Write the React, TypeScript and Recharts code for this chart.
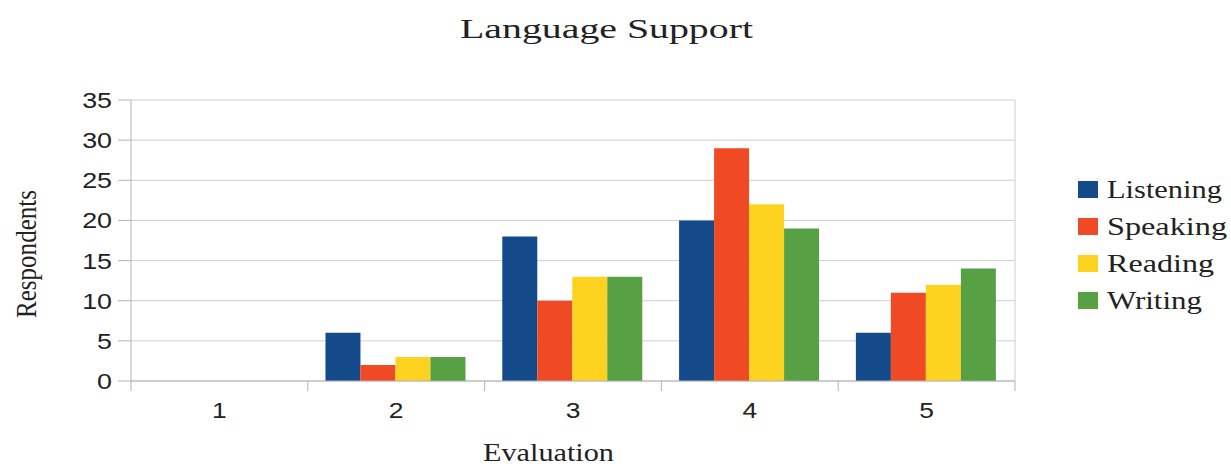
import React from "react";
import { BarChart, Bar, XAxis, YAxis, CartesianGrid } from "recharts";

const categories = ["1", "2", "3", "4", "5"];
const listening = [0, 6, 18, 20, 6];
const speaking = [0, 2, 10, 29, 11];
const reading = [0, 3, 13, 22, 12];
const writing = [0, 3, 13, 19, 14];
const yTicks = [0, 5, 10, 15, 20, 25, 30, 35];

const series = [
  { key: "Listening", color: "#144a89" },
  { key: "Speaking", color: "#ef4a23" },
  { key: "Reading", color: "#fdd320" },
  { key: "Writing", color: "#57a043" },
];

const data = categories.map((c, i) => ({
  evaluation: c,
  Listening: listening[i],
  Speaking: speaking[i],
  Reading: reading[i],
  Writing: writing[i],
}));

const W = 1231;
const H = 467;
const margin = { top: 100, right: 216, bottom: 0, left: 0 };
const Y_AXIS_W = 131;
const X_AXIS_H = 86;
const halfBand = (W - Y_AXIS_W - margin.right) / categories.length / 2;

const AXIS = "#b3b3b3";
const sans = "'Liberation Sans', Arial, sans-serif";
const serif = "'Liberation Serif', 'Times New Roman', serif";

if (typeof document !== "undefined") document.body.style.margin = "0";

function XTick(props: any) {
  const { x, y, payload, index } = props;
  const last = index === categories.length - 1;
  return (
    <g>
      <line x1={x - halfBand} y1={y} x2={x - halfBand} y2={y + 10} stroke={AXIS} />
      {last && <line x1={x + halfBand} y1={y} x2={x + halfBand} y2={y + 10} stroke={AXIS} />}
      <g transform={`translate(${x},${y + 37}) scale(1.2,1)`}>
        <text textAnchor="middle" fontFamily={sans} fontSize={22} fill="#222">
          {payload.value}
        </text>
      </g>
    </g>
  );
}

function YTick(props: any) {
  const { x, y, payload } = props;
  return (
    <g transform={`translate(${x},${y + 8}) scale(1.22,1)`}>
      <text textAnchor="end" fontFamily={sans} fontSize={22} fill="#222">
        {payload.value}
      </text>
    </g>
  );
}

export default function App() {
  return (
    <div style={{ position: "relative", width: W, height: H, background: "#fff" }}>
      <BarChart
        width={W}
        height={H}
        data={data}
        margin={margin}
        barCategoryGap="10%"
        barGap={0}
      >
        <CartesianGrid
          stroke="#cfcfcf"
          vertical={true}
          verticalCoordinatesGenerator={({ offset }: any) => [offset.left + offset.width]}
        />
        <XAxis
          dataKey="evaluation"
          height={X_AXIS_H}
          tickLine={false}
          tickSize={0}
          tickMargin={0}
          axisLine={{ stroke: AXIS }}
          tick={<XTick />}
          interval={0}
        />
        <YAxis
          width={Y_AXIS_W}
          domain={[0, 35]}
          ticks={yTicks}
          tickSize={13}
          tickMargin={6}
          tickLine={{ stroke: AXIS }}
          axisLine={{ stroke: AXIS }}
          tick={<YTick />}
          interval={0}
        />
        {series.map((s) => (
          <Bar key={s.key} dataKey={s.key} fill={s.color} isAnimationActive={false} />
        ))}
      </BarChart>
      <svg
        width={W}
        height={H}
        style={{ position: "absolute", left: 0, top: 0, pointerEvents: "none" }}
      >
        <text
          x={460}
          y={38}
          fontFamily={serif}
          fontSize={28}
          fill="#222"
          textLength={293}
          lengthAdjust="spacingAndGlyphs"
        >
          Language Support
        </text>
        <text
          x={483}
          y={461}
          fontFamily={serif}
          fontSize={26}
          fill="#222"
          textLength={131}
          lengthAdjust="spacingAndGlyphs"
        >
          Evaluation
        </text>
        <text
          transform="translate(36,318) rotate(-90)"
          fontFamily={serif}
          fontSize={29}
          fill="#222"
          textLength={128}
          lengthAdjust="spacingAndGlyphs"
        >
          Respondents
        </text>
        {series.map((s, i) => (
          <g key={s.key} transform={`translate(1078,${181 + i * 37})`}>
            <rect x={0} y={0} width={20} height={17} fill={s.color} />
            <text
              x={29}
              y={17}
              fontFamily={serif}
              fontSize={26}
              fill="#222"
              textLength={s.key === "Listening" ? 115 : s.key === "Speaking" ? 120 : s.key === "Reading" ? 107 : 95}
              lengthAdjust="spacingAndGlyphs"
            >
              {s.key}
            </text>
          </g>
        ))}
      </svg>
    </div>
  );
}
